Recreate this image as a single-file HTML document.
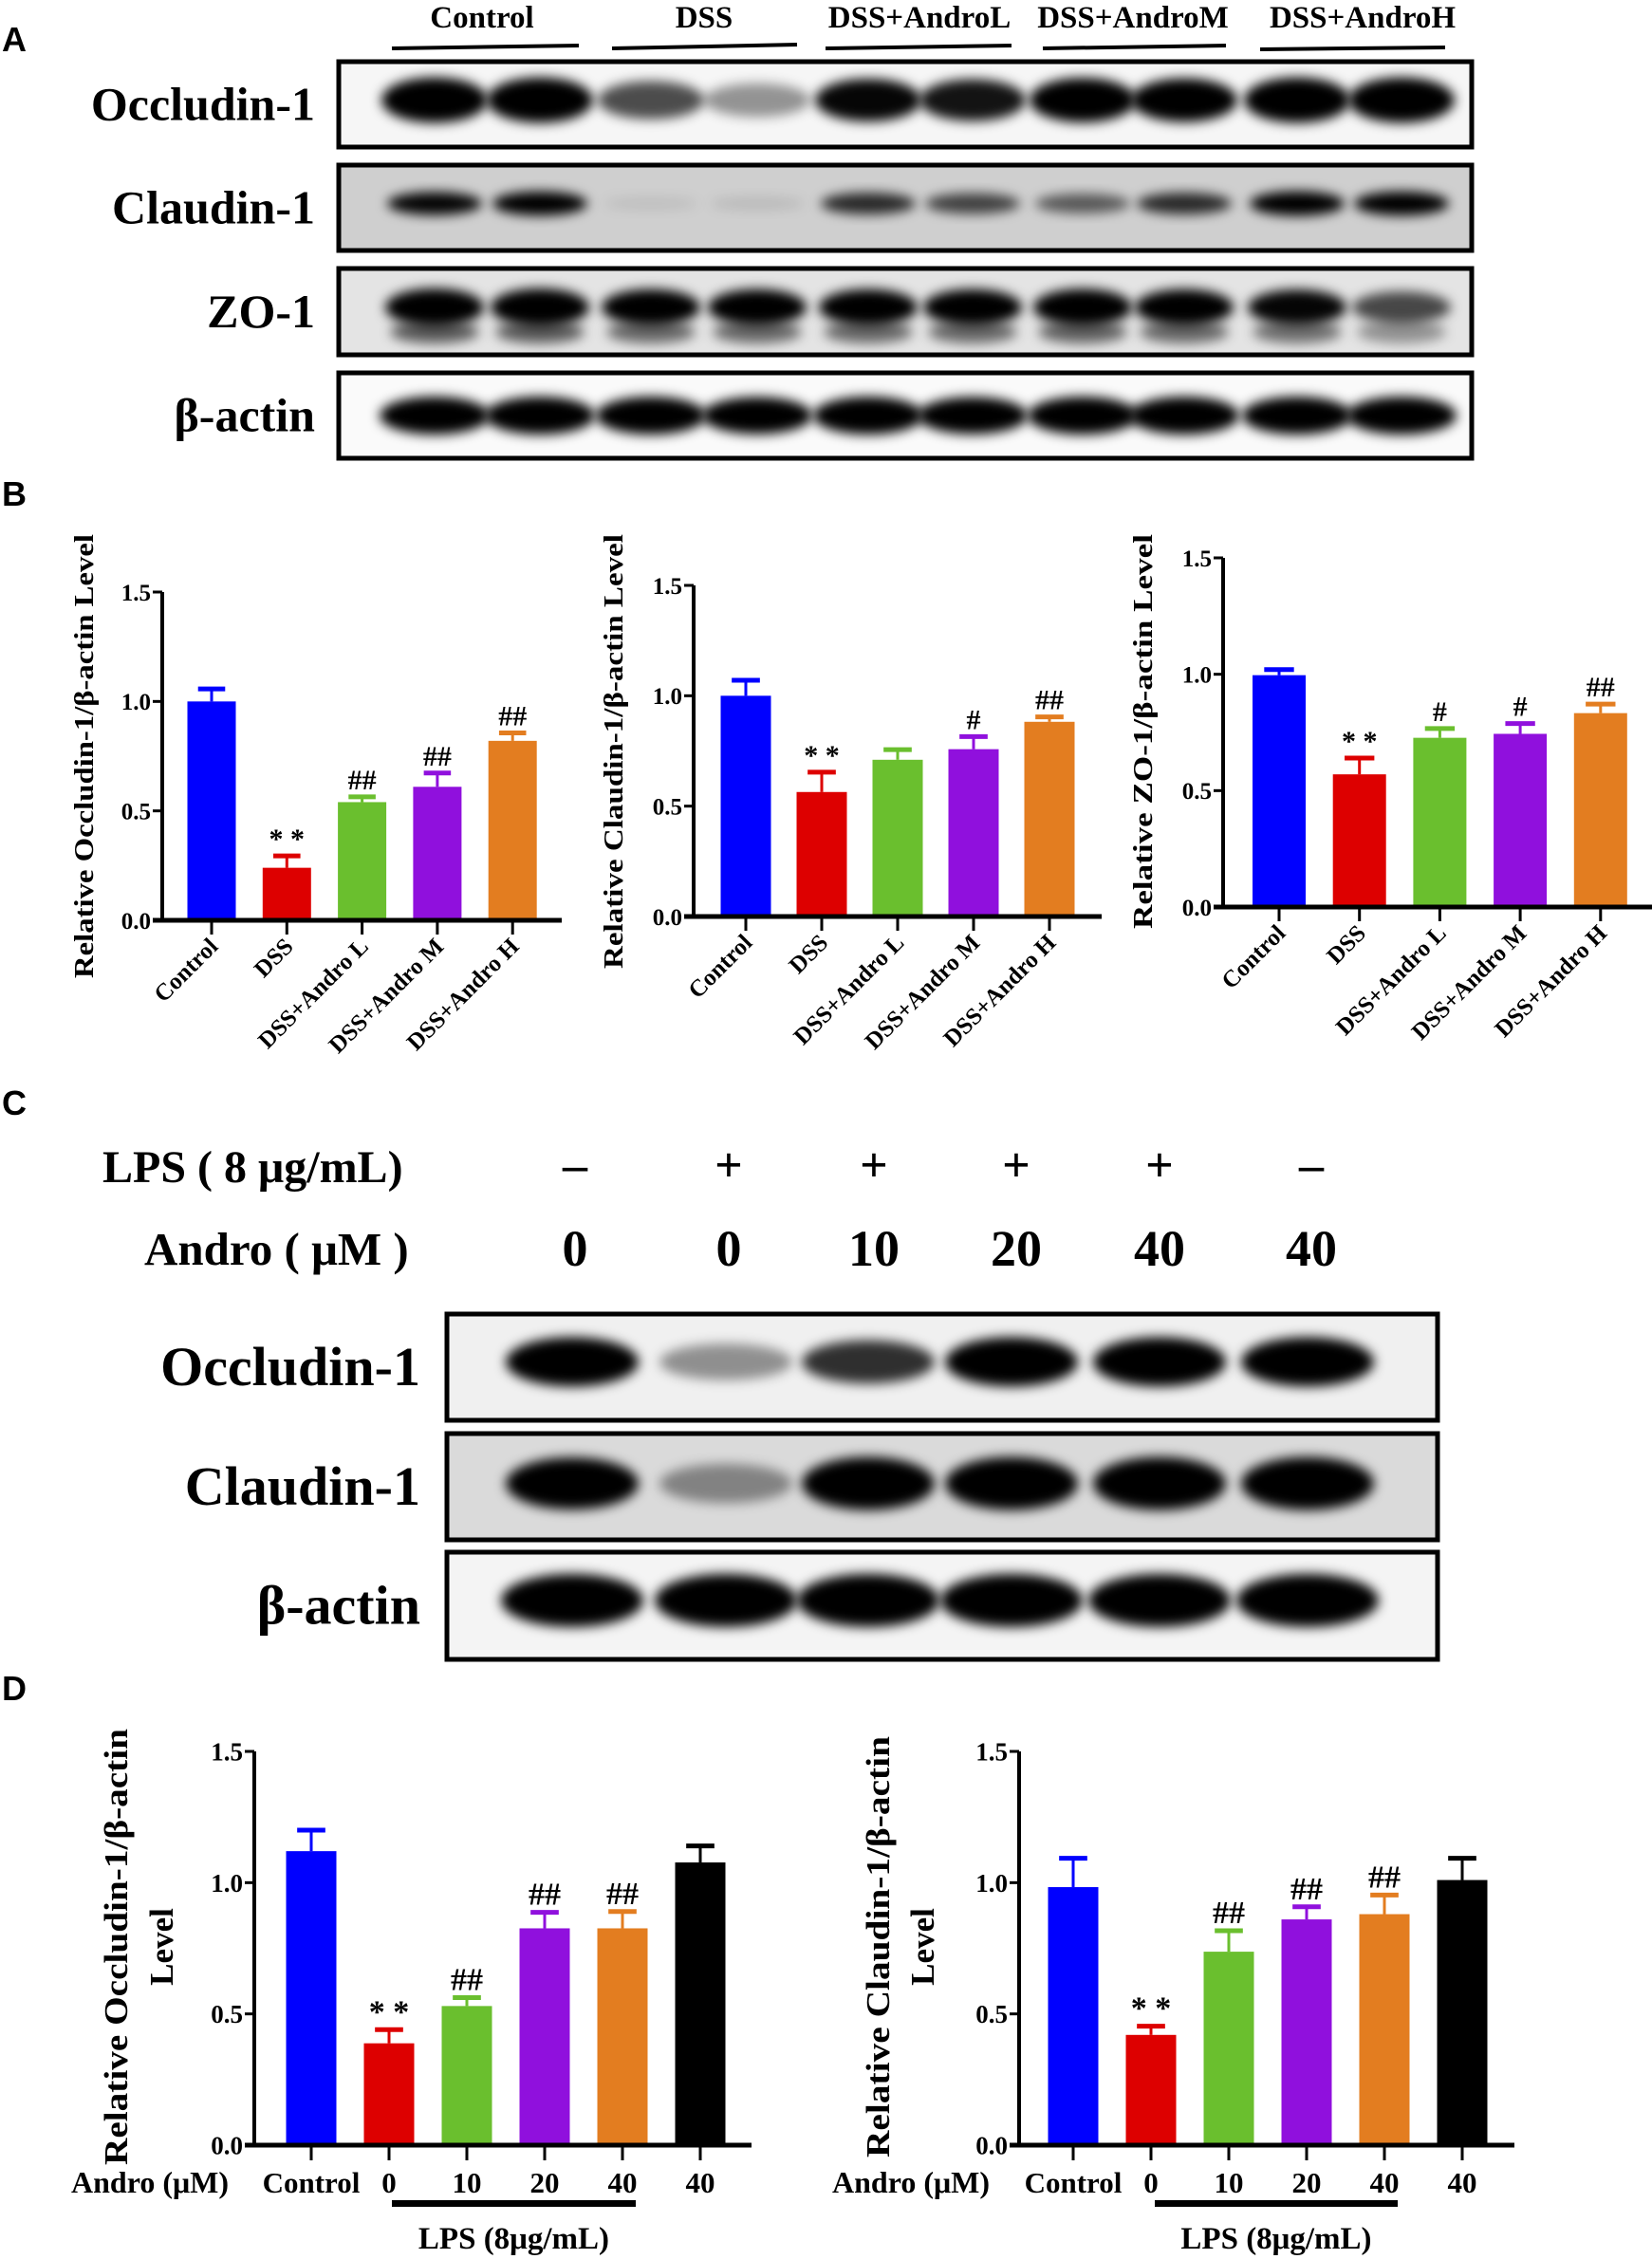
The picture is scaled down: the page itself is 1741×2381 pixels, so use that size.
<!DOCTYPE html>
<html><head><meta charset="utf-8">
<style>
html,body{margin:0;padding:0;background:#fff;}
svg{display:block;}
text{font-family:"Liberation Serif",serif;font-weight:bold;fill:#000;}
.sans{font-family:"Liberation Sans",sans-serif;}
</style></head>
<body>
<svg id="fig" xmlns="http://www.w3.org/2000/svg" width="1741" height="2381" viewBox="0 0 1741 2381">
<defs>
<filter id="blur6" x="-50%" y="-50%" width="200%" height="200%"><feGaussianBlur stdDeviation="6"/></filter>
</defs>
<text class="sans" x="2" y="54" font-size="36">A</text>
<text class="sans" x="2" y="533" font-size="36">B</text>
<text class="sans" x="2" y="1175" font-size="36">C</text>
<text class="sans" x="2" y="1792" font-size="36">D</text>

<g font-size="33">
<text x="508" y="29" text-anchor="middle">Control</text>
<text x="742" y="29" text-anchor="middle">DSS</text>
<text x="969" y="29" text-anchor="middle">DSS+AndroL</text>
<text x="1194" y="29" text-anchor="middle">DSS+AndroM</text>
<text x="1436" y="29" text-anchor="middle">DSS+AndroH</text>
</g>
<g stroke="#000" stroke-width="4">
<line x1="413" y1="51" x2="610" y2="48"/><line x1="645" y1="51" x2="840" y2="47"/>
<line x1="870" y1="51" x2="1066" y2="48"/><line x1="1099" y1="51" x2="1292" y2="48"/>
<line x1="1328" y1="52" x2="1523" y2="50"/>
</g>
<g id="blotsA"></g>
<g id="chartsB"></g>

<text x="108" y="1246" font-size="48">LPS ( 8 μg/mL)</text>
<text x="152" y="1333" font-size="49">Andro ( μM )</text>
<g id="cHeader"></g>
<g id="blotsC"></g>
<g id="chartsD"></g>
</svg>
<script>
// ---------- DATA ----------
const bCategories = ["Control","DSS","DSS+Andro L","DSS+Andro M","DSS+Andro H"];
const b1Values = [1.0, 0.24, 0.54, 0.61, 0.82];
const b1Errors = [0.057, 0.054, 0.024, 0.063, 0.036];
const b1Marks = ["", "**", "##", "##", "##"];
const b2Values = [1.0, 0.564, 0.71, 0.758, 0.882];
const b2Errors = [0.07, 0.09, 0.046, 0.057, 0.022];
const b2Marks = ["", "**", "", "#", "##"];
const b3Values = [0.996, 0.57, 0.727, 0.744, 0.833];
const b3Errors = [0.024, 0.07, 0.04, 0.044, 0.039];
const b3Marks = ["", "**", "#", "#", "##"];
const dCategories = ["Control","0","10","20","40","40"];
const d1Values = [1.12, 0.388, 0.53, 0.826, 0.826, 1.077];
const d1Errors = [0.08, 0.052, 0.032, 0.061, 0.064, 0.063];
const d1Marks = ["", "**", "##", "##", "##", ""];
const d2Values = [0.983, 0.42, 0.737, 0.86, 0.88, 1.01];
const d2Errors = [0.11, 0.033, 0.08, 0.048, 0.073, 0.083];
const d2Marks = ["", "**", "##", "##", "##", ""];
const yTicks = [0, 0.5, 1.0, 1.5];
const yTickLabels = ["0.0", "0.5", "1.0", "1.5"];
const cLps = ["-","+","+","+","+","-"];
const cAndro = ["0","0","10","20","40","40"];
const aOcc = [1,1,0.6,0.35,0.85,0.8,0.95,0.9,1,1];
const aCla = [0.85,0.95,0.06,0.08,0.7,0.6,0.5,0.7,1,0.95];
const aZo = [1,1,0.9,0.9,0.9,0.9,0.95,0.9,0.85,0.6];
const aAct = [1,1,1,0.95,1,0.95,1,1,1,1];
const cOcc = [1,0.35,0.7,1,1,1];
const cCla = [0.95,0.35,1,1,1,1];
const cAct = [1,1,1,1,1,1];
const colors = ["#0000ff","#dd0000","#6abf2e","#9010dd","#e37d20","#000000"];

const NS = "http://www.w3.org/2000/svg";
function el(tag, attrs, parent){ const e=document.createElementNS(NS,tag); for(const k in attrs) e.setAttribute(k,attrs[k]); if(parent) parent.appendChild(e); return e; }

function blot(parent, name, label, x0, x1, y0, y1, lanes, vals, opts){
  const g = el("g", {}, parent);
  
  
  el("rect",{x:x0,y:y0,width:x1-x0,height:y1-y0,fill:opts.bg},g);
  const cy = y0 + (y1-y0)*opts.cyf;
  vals.forEach((v,i)=>{
    const b = el("ellipse",{cx:lanes[i],cy:cy,rx:opts.rx,ry:opts.ry*(0.6+0.4*v),fill:"#000","fill-opacity":Math.min(1,v*1.15),filter:"url(#blur6)"},g);
    
    
    if(opts.extra){ el("ellipse",{cx:lanes[i],cy:cy+opts.extra,rx:opts.rx*0.9,ry:opts.ry*0.6,fill:"#000","fill-opacity":v*0.6,filter:"url(#blur6)"},g); }
  });
  el("rect",{x:x0,y:y0,width:x1-x0,height:y1-y0,fill:"none",stroke:"#000","stroke-width":opts.sw},g);
  const t = el("text",{x:opts.lx,y:(y0+y1)/2+opts.fs*0.33,"text-anchor":"end","font-size":opts.fs},parent);
  t.textContent = label;
  
  
}
const lanesA = [458,569,686,798,915,1025,1141,1248,1367,1477];
const gA = document.getElementById("blotsA");
blot(gA,"occludin-blot-a","Occludin-1",357,1551,65,155,lanesA,aOcc,{bg:"#f6f6f6",cyf:0.45,rx:56,ry:24,sw:5,lx:332,fs:50});
blot(gA,"claudin-blot-a","Claudin-1",357,1551,174,264,lanesA,aCla,{bg:"#cfcfcf",cyf:0.45,rx:50,ry:13,sw:5,lx:332,fs:50});
blot(gA,"zo1-blot-a","ZO-1",357,1551,283,374,lanesA,aZo,{bg:"#e4e4e4",cyf:0.45,rx:52,ry:20,sw:5,lx:332,fs:50,extra:26});
blot(gA,"actin-blot-a","β-actin",357,1551,393,483,lanesA,aAct,{bg:"#fafafa",cyf:0.5,rx:58,ry:20,sw:5,lx:332,fs:50});
const lanesC = [603,765,915,1066,1222,1378];
const gC = document.getElementById("blotsC");
blot(gC,"occludin-blot-c","Occludin-1",471,1515,1385,1497,lanesC,cOcc,{bg:"#f0f0f0",cyf:0.45,rx:70,ry:26,sw:5,lx:443,fs:58});
blot(gC,"claudin-blot-c","Claudin-1",471,1515,1511,1623,lanesC,cCla,{bg:"#dadada",cyf:0.47,rx:70,ry:28,sw:5,lx:443,fs:58});
blot(gC,"actin-blot-c","β-actin",471,1515,1636,1749,lanesC,cAct,{bg:"#f4f4f4",cyf:0.45,rx:75,ry:28,sw:5,lx:443,fs:58});
const ch = document.getElementById("cHeader");
const signX = [606,768,921,1071,1222,1382];
cLps.forEach((s,i)=>{ const t=el("text",{x:signX[i],y:1245,"text-anchor":"middle","font-size":52},ch); t.textContent=s==="-"?"–":"+";
    });
cAndro.forEach((s,i)=>{ const t=el("text",{x:signX[i],y:1334,"text-anchor":"middle","font-size":54},ch); t.textContent=s;
    });

function barChart(parent, name, cfg, cats, vals, errs, marks){
  const g = el("g",{},parent);
  
  
  const y = v => cfg.y0 - (cfg.y0-cfg.y15)*v/1.5;
  const x = i => cfg.x0 + i*cfg.step;
  vals.forEach((v,i)=>{
    const c = colors[i];
    const top = y(v+errs[i]);
    const eb = el("line",{x1:x(i),x2:x(i),y1:y(v),y2:top,stroke:c,"stroke-width":3},g);
     
    el("line",{x1:x(i)-cfg.bw*0.28,x2:x(i)+cfg.bw*0.28,y1:top,y2:top,stroke:c,"stroke-width":5},g);
    const r = el("rect",{x:x(i)-cfg.bw/2,y:y(v),width:cfg.bw,height:cfg.y0-y(v),fill:c},g);
    
    
    if(marks[i]){
      const t = el("text",{x:x(i),y:top-8,"text-anchor":"middle","font-size":cfg.mfs},g);
      t.textContent = marks[i]==="**" ? "* *" : marks[i];
      
      
    }
    el("line",{x1:x(i),x2:x(i),y1:cfg.y0,y2:cfg.y0+cfg.tl,stroke:"#000","stroke-width":3},g);
    const lab = el("text",{"font-size":cfg.cfs},g);
    if(cfg.rot){
      lab.setAttribute("text-anchor","end");
      lab.setAttribute("transform",`translate(${x(i)+8},${cfg.y0+cfg.tl+14}) rotate(-45)`);
    } else {
      lab.setAttribute("text-anchor","middle"); lab.setAttribute("x",x(i)); lab.setAttribute("y",cfg.y0+50);
    }
    lab.textContent = cats[i];
    
    
  });
  const ya = el("line",{x1:cfg.ax,x2:cfg.ax,y1:cfg.y15,y2:cfg.y0,stroke:"#000","stroke-width":4},g);
   
  const xa = el("line",{x1:cfg.ax-10,x2:cfg.xend,y1:cfg.y0,y2:cfg.y0,stroke:"#000","stroke-width":5},g);
   
  yTicks.forEach((t,k)=>{
    el("line",{x1:cfg.ax-10,x2:cfg.ax,y1:y(t),y2:y(t),stroke:"#000","stroke-width":3},g);
    const tl = el("text",{x:cfg.ax-12,y:y(t)+cfg.tfs*0.35,"text-anchor":"end","font-size":cfg.tfs},g);
    tl.textContent = yTickLabels[k];
    
    
  });
  cfg.ylab.forEach(l=>{
    const t = el("text",{"text-anchor":"middle","font-size":cfg.yfs,transform:`translate(${l.x},${l.cy}) rotate(-90)`},g);
    if(l.len){ t.setAttribute("textLength",l.len); t.setAttribute("lengthAdjust","spacingAndGlyphs"); }
    t.textContent = l.t;
    
    
  });
}
const gB = document.getElementById("chartsB");
barChart(gB,"chart-occludin-b",{x0:223,step:79.3,bw:51,y0:970,y15:624,ax:171,xend:592,tl:15,rot:true,cfs:25,tfs:25,mfs:30,yfs:28,
  ylab:[{x:98,cy:797,t:"Relative Occludin-1/β-actin Level",len:468}]},bCategories,b1Values,b1Errors,b1Marks);
barChart(gB,"chart-claudin-b",{x0:786,step:80,bw:53,y0:966,y15:617,ax:731,xend:1161,tl:15,rot:true,cfs:25,tfs:25,mfs:30,yfs:28,
  ylab:[{x:656,cy:792,t:"Relative Claudin-1/β-actin Level",len:458}]},bCategories,b2Values,b2Errors,b2Marks);
barChart(gB,"chart-zo1-b",{x0:1348,step:84.7,bw:56,y0:956,y15:588,ax:1289,xend:1741,tl:15,rot:true,cfs:25,tfs:25,mfs:30,yfs:28,
  ylab:[{x:1214,cy:771,t:"Relative ZO-1/β-actin Level",len:416}]},bCategories,b3Values,b3Errors,b3Marks);

const gD = document.getElementById("chartsD");
function dExtras(name, andX, lpsX0, lpsX1){
  const g = el("g",{},gD);
  
  
  const a = el("text",{x:andX,y:2311,"text-anchor":"middle","font-size":32},g); a.textContent="Andro (μM)";
   
  const bar = el("rect",{x:lpsX0,y:2319,width:lpsX1-lpsX0,height:7,fill:"#000"},g);
   
  const l = el("text",{x:(lpsX0+lpsX1)/2,y:2370,"text-anchor":"middle","font-size":33},g); l.textContent="LPS (8μg/mL)";
   
}
barChart(gD,"chart-occludin-d",{x0:328,step:82,bw:53,y0:2261,y15:1846,ax:268,xend:792,tl:16,rot:false,cfs:31,tfs:27,mfs:34,yfs:35,
  ylab:[{x:134,cy:2052,t:"Relative Occludin-1/β-actin",len:460},{x:182,cy:2052,t:"Level"}]},dCategories,d1Values,d1Errors,d1Marks);
dExtras("lps-annotation-d1",158,413,670);
barChart(gD,"chart-claudin-d",{x0:1131,step:82,bw:53,y0:2261,y15:1846,ax:1074,xend:1596,tl:16,rot:false,cfs:31,tfs:27,mfs:34,yfs:35,
  ylab:[{x:937,cy:2052,t:"Relative Claudin-1/β-actin",len:444},{x:984,cy:2052,t:"Level"}]},dCategories,d2Values,d2Errors,d2Marks);
dExtras("lps-annotation-d2",960,1217,1473);
</script>
</body></html>
